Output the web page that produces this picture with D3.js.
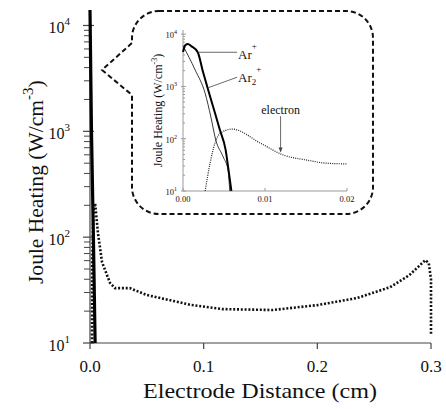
<!DOCTYPE html>
<meta charset="utf-8">
<html>
<head>
<title>Joule Heating vs Electrode Distance</title>
<style>
body { margin: 0; background: #fff; }
svg text { font-family: "Liberation Serif", "Times New Roman", "DejaVu Serif", serif; fill: #111; }
</style>
</head>
<body>
<script src="https://d3js.org/d3.v7.min.js"></script>
<script>

// main panel data (distance in cm, heating in W/cm^3)
var xTicks = [0, 0.1, 0.2, 0.3];
var xTickLabels = ["0.0", "0.1", "0.2", "0.3"];
var yTicks = [10, 100, 1000, 10000];
var yTickExps = ["1", "2", "3", "4"];

var ionMain = [[0, 14000], [0.0013, 1000], [0.003, 100], [0.0045, 10]];
var electronMain = [[0.0018, 10], [0.002, 60], [0.003, 180], [0.0045, 209], [0.007, 109],
  [0.0106, 58], [0.0176, 37], [0.022, 33], [0.035, 33], [0.05, 28.4], [0.088, 23],
  [0.117, 20.9], [0.161, 20.5], [0.2, 22.8], [0.235, 26.6], [0.264, 33.7], [0.281, 43.8],
  [0.295, 60.6], [0.298, 57], [0.3, 40], [0.3, 11.9]];

// inset data
var insetXTicks = [0, 0.01, 0.02];
var insetXTickLabels = ["0.00", "0.01", "0.02"];
var arPlus = [[0, 4550], [0.0003, 6200], [0.0006, 6500], [0.001, 5900], [0.0018, 4500], [0.0024, 2000],
  [0.003, 935], [0.0039, 310], [0.0045, 147], [0.0052, 61], [0.0055, 29], [0.0059, 10]];
var ar2Plus = [[0, 6000], [0.0015, 2040], [0.0027, 740], [0.0034, 260], [0.004, 94],
  [0.0049, 45], [0.0055, 25], [0.0057, 10]];
var electronInset = [[0.0027, 10], [0.0033, 34], [0.0039, 83], [0.0046, 129], [0.006, 153],
  [0.0094, 83], [0.0122, 49], [0.0151, 39], [0.0175, 34], [0.02, 33]];

var width = 446, height = 409;
var serif = "'Liberation Serif', 'Times New Roman', 'DejaVu Serif', serif";

var svg = d3.select("body").append("svg")
    .attr("width", width)
    .attr("height", height)
    .attr("font-family", serif);

// ---------- main plot ----------
var x = d3.scaleLinear().domain([0, 0.3]).range([90, 431]);
var y = d3.scaleLog().domain([10, 14000]).range([343, 10]);

var line = d3.line()
    .x(function(d) { return x(d[0]); })
    .y(function(d) { return y(d[1]); });

svg.append("defs").append("clipPath").attr("id", "mainclip")
  .append("rect").attr("x", 88).attr("y", 8).attr("width", 350).attr("height", 336);

var axisColor = "#444";

// x axis
var xAxis = svg.append("g").attr("transform", "translate(0,343)");
xAxis.append("line").attr("x1", x(0)).attr("x2", x(0.3))
    .attr("stroke", axisColor).attr("stroke-width", 1.2);
xAxis.selectAll(".xt").data(xTicks).enter().append("line")
    .attr("x1", x).attr("x2", x).attr("y1", 0).attr("y2", 6)
    .attr("stroke", axisColor).attr("stroke-width", 1.2);
xAxis.selectAll(".xl").data(xTicks).enter().append("text")
    .attr("x", x).attr("y", 29)
    .attr("text-anchor", "middle")
    .style("font-size", "17px")
    .text(function(d, i) { return xTickLabels[i]; });

// y axis
var yAxis = svg.append("g");
yAxis.append("line").attr("x1", 90).attr("x2", 90).attr("y1", y(10)).attr("y2", y(14000))
    .attr("stroke", axisColor).attr("stroke-width", 1.2);
var minors = [];
yTicks.slice(0, 3).forEach(function(t) {
  for (var k = 2; k <= 9; k++) minors.push(t * k);
});
yAxis.selectAll(".ym").data(minors).enter().append("line")
    .attr("x1", 84).attr("x2", 90)
    .attr("y1", y).attr("y2", y)
    .attr("stroke", axisColor).attr("stroke-width", 1);
yAxis.selectAll(".yt").data(yTicks).enter().append("line")
    .attr("x1", 83).attr("x2", 94)
    .attr("y1", y).attr("y2", y)
    .attr("stroke", axisColor).attr("stroke-width", 1.2);
var ylab = yAxis.selectAll(".yl").data(yTicks).enter().append("text")
    .attr("x", 70).attr("y", function(d) { return y(d) + 8; })
    .attr("text-anchor", "end")
    .style("font-size", "16px");
ylab.append("tspan").text("10");
ylab.append("tspan").attr("dy", -8).style("font-size", "11px")
    .text(function(d, i) { return yTickExps[i]; });

// curves
var plot = svg.append("g").attr("clip-path", "url(#mainclip)");
plot.append("path").datum(electronMain)
    .attr("d", line)
    .attr("fill", "none").attr("stroke", "#111")
    .attr("stroke-width", 2.6)
    .attr("stroke-dasharray", "2,1.8");
plot.append("path").datum(ionMain)
    .attr("d", line)
    .attr("fill", "none").attr("stroke", "#000")
    .attr("stroke-width", 3.2);

// titles
svg.append("text")
    .attr("x", 143).attr("y", 398)
    .attr("textLength", 234).attr("lengthAdjust", "spacingAndGlyphs")
    .style("font-size", "22px")
    .text("Electrode Distance (cm)");

var yt = svg.append("text")
    .attr("transform", "translate(43,284) rotate(-90)")
    .style("font-size", "22px");
yt.append("tspan").attr("textLength", 184).attr("lengthAdjust", "spacingAndGlyphs")
    .text("Joule Heating (W/cm");
yt.append("tspan").attr("dy", -10).style("font-size", "15px").text("-3");
yt.append("tspan").attr("dy", 10).text(")");

// ---------- callout box ----------
var box = {left: 132, top: 11, right: 373, bottom: 214, r: 27, tipX: 102, tipY: 70, notchTop: 43, notchBottom: 95};
var p = d3.path();
p.moveTo(box.left + box.r, box.top);
p.lineTo(box.right - box.r, box.top);
p.arcTo(box.right, box.top, box.right, box.top + box.r, box.r);
p.lineTo(box.right, box.bottom - box.r);
p.arcTo(box.right, box.bottom, box.right - box.r, box.bottom, box.r);
p.lineTo(box.left + box.r, box.bottom);
p.arcTo(box.left, box.bottom, box.left, box.bottom - box.r, box.r);
p.lineTo(box.left, box.notchBottom);
p.lineTo(box.tipX, box.tipY);
p.lineTo(box.left, box.notchTop);
p.arcTo(box.left, box.top, box.left + box.r, box.top, box.r);
p.closePath();
svg.append("path").attr("d", p.toString())
    .attr("fill", "#fff").attr("stroke", "#111")
    .attr("stroke-width", 2)
    .attr("stroke-dasharray", "5,3");

// ---------- inset ----------
var ix = d3.scaleLinear().domain([0, 0.02]).range([183, 347]);
var iy = d3.scaleLog().domain([10, 12000]).range([191, 30]);
var iline = d3.line()
    .x(function(d) { return ix(d[0]); })
    .y(function(d) { return iy(d[1]); })
    .curve(d3.curveMonotoneX);

var inset = svg.append("g");
var grey = "#9a9a9a";

inset.append("line").attr("x1", ix(0)).attr("x2", ix(0.02)).attr("y1", iy(10)).attr("y2", iy(10))
    .attr("stroke", grey);
inset.selectAll(".ixt").data(insetXTicks).enter().append("line")
    .attr("x1", ix).attr("x2", ix).attr("y1", iy(10)).attr("y2", iy(10) - 3)
    .attr("stroke", grey);
inset.selectAll(".ixl").data(insetXTicks).enter().append("text")
    .attr("x", ix).attr("y", iy(10) + 11)
    .attr("text-anchor", "middle")
    .style("font-size", "8.5px")
    .text(function(d, i) { return insetXTickLabels[i]; });

inset.append("line").attr("x1", ix(0)).attr("x2", ix(0)).attr("y1", iy(10)).attr("y2", iy(12000))
    .attr("stroke", grey);
inset.selectAll(".iym").data(minors).enter().append("line")
    .attr("x1", ix(0)).attr("x2", ix(0) + 2)
    .attr("y1", iy).attr("y2", iy)
    .attr("stroke", grey);
inset.selectAll(".iyt").data(yTicks).enter().append("line")
    .attr("x1", ix(0) - 2).attr("x2", ix(0) + 3)
    .attr("y1", iy).attr("y2", iy)
    .attr("stroke", grey);
var iylab = inset.selectAll(".iyl").data(yTicks).enter().append("text")
    .attr("x", ix(0) - 6).attr("y", function(d) { return iy(d) + 4; })
    .attr("text-anchor", "end")
    .style("font-size", "8.5px");
iylab.append("tspan").text("10");
iylab.append("tspan").attr("dy", -4).style("font-size", "6px")
    .text(function(d, i) { return yTickExps[i]; });

var iyt = inset.append("text")
    .attr("transform", "translate(162," + ((iy(10) + iy(12000)) / 2) + ") rotate(-90)")
    .attr("text-anchor", "middle")
    .style("font-size", "12px");
iyt.append("tspan").text("Joule Heating (W/cm");
iyt.append("tspan").attr("dy", -5).style("font-size", "8px").text("-3");
iyt.append("tspan").attr("dy", 5).text(")");

inset.append("path").datum(electronInset)
    .attr("d", iline)
    .attr("fill", "none").attr("stroke", "#222")
    .attr("stroke-width", 1.2).attr("stroke-dasharray", "1,1.2");
inset.append("path").datum(ar2Plus)
    .attr("d", iline)
    .attr("fill", "none").attr("stroke", "#222").attr("stroke-width", 0.9);
inset.append("path").datum(arPlus)
    .attr("d", iline)
    .attr("fill", "none").attr("stroke", "#000").attr("stroke-width", 2);

// labels and leaders
var labelX = 0.0066;
inset.append("line")
    .attr("x1", ix(0.0018)).attr("y1", iy(4500))
    .attr("x2", ix(labelX)).attr("y2", iy(4500))
    .attr("stroke", "#444").attr("stroke-width", 0.8);
var arLab = inset.append("text").attr("x", ix(labelX) + 1).attr("y", iy(4500) + 7)
    .style("font-size", "13px");
arLab.append("tspan").text("Ar");
arLab.append("tspan").attr("dy", -10).style("font-size", "9px").text("+");

inset.append("line")
    .attr("x1", ix(0.003)).attr("y1", iy(935))
    .attr("x2", ix(labelX)).attr("y2", iy(1500))
    .attr("stroke", "#444").attr("stroke-width", 0.8);
var ar2Lab = inset.append("text").attr("x", ix(labelX) + 1).attr("y", iy(1500) + 5)
    .style("font-size", "13px");
ar2Lab.append("tspan").text("Ar");
ar2Lab.append("tspan").attr("dy", 3).style("font-size", "9px").text("2");
ar2Lab.append("tspan").attr("dy", -13).style("font-size", "9px").text("+");

var eX = 0.0119;
inset.append("text").attr("x", ix(eX)).attr("y", iy(300))
    .attr("text-anchor", "middle")
    .style("font-size", "12px")
    .text("electron");
inset.append("line")
    .attr("x1", ix(eX)).attr("y1", iy(270))
    .attr("x2", ix(eX)).attr("y2", iy(52) - 2)
    .attr("stroke", "#444").attr("stroke-width", 0.8);
inset.append("path")
    .attr("d", "M" + (ix(eX) - 2) + "," + (iy(52) - 6) + "L" + ix(eX) + "," + (iy(52) - 1) + "L" + (ix(eX) + 2) + "," + (iy(52) - 6) + "Z")
    .attr("fill", "#444");

</script>
</body>
</html>
